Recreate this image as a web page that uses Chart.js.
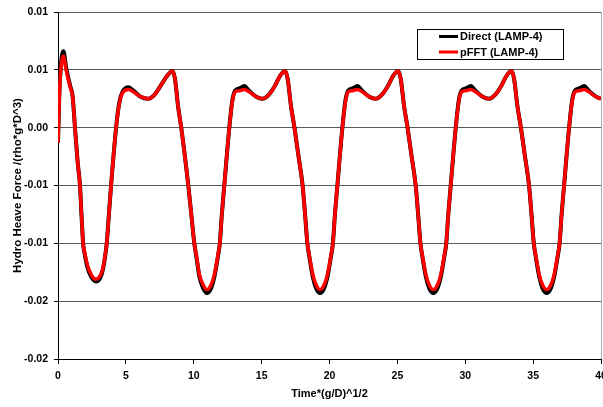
<!DOCTYPE html>
<html>
<head>
<meta charset="utf-8">
<script src="https://cdn.jsdelivr.net/npm/chart.js@4.4.1/dist/chart.umd.min.js"></script>
<style>
  body { margin: 0; background: #fff; }
  #wrap { width: 603px; height: 407px; }
</style>
</head>
<body>
<div id="wrap"><canvas id="myChart" width="603" height="407"></canvas></div>
<script>
var graph;

const seriesNames = ['Direct (LAMP-4)', 'pFFT (LAMP-4)'];
const xTickLabels = ['0', '5', '10', '15', '20', '25', '30', '35', '40'];
// bottom to top, as the reference prints them (2 decimals)
const yTickLabels = ['-0.02', '-0.02', '-0.01', '-0.01', '0.00', '0.01', '0.01'];

const timeVals = [
    0.00, 0.10, 0.22, 0.40, 0.60, 0.90, 1.08, 1.25, 1.45, 1.62, 1.73, 1.85, 1.98, 2.15, 2.45, 2.80, 3.10, 3.30,
    3.45, 3.59, 3.75, 3.91, 4.28, 4.52, 4.75, 5.20, 5.55, 6.05, 6.64, 7.15, 7.60, 8.05, 8.44, 8.62, 8.85, 9.08,
    9.35, 9.60, 9.82, 10.04, 10.20, 10.42, 10.70,
    10.97, 11.27, 11.52, 11.77, 11.92, 12.07, 12.25, 12.62, 12.85, 13.05, 13.37, 13.72, 14.07, 14.57, 15.07,
    15.57, 15.97, 16.37, 16.74, 16.92, 17.17, 17.42, 17.72, 18.02, 18.20, 18.37, 18.52, 18.77, 19.02,
    19.30, 19.60, 19.85, 20.10, 20.25, 20.40, 20.58, 20.95, 21.18, 21.38, 21.70, 22.05, 22.40, 22.90, 23.40,
    23.90, 24.30, 24.70, 25.07, 25.25, 25.50, 25.75, 26.05, 26.35, 26.53, 26.70, 26.85, 27.10, 27.35,
    27.65, 27.95, 28.20, 28.45, 28.60, 28.75, 28.93, 29.30, 29.53, 29.73, 30.05, 30.40, 30.75, 31.25, 31.75,
    32.25, 32.65, 33.05, 33.42, 33.60, 33.85, 34.10, 34.40, 34.70, 34.88, 35.05, 35.20, 35.45, 35.70,
    36.00, 36.30, 36.55, 36.80, 36.95, 37.10, 37.28, 37.65, 37.88, 38.08, 38.40, 38.75, 39.10, 39.60, 40.00
];

const directVals = [
    -0.0013, 0.0030, 0.0055, 0.0066, 0.0052, 0.0036, 0.0027, 0.0000, -0.0030, -0.0050, -0.0075, -0.0100, -0.0110,
    -0.0120, -0.0129, -0.0133, -0.0130, -0.0123, -0.0113, -0.0100, -0.0075, -0.0050, 0.0000, 0.0022, 0.0031,
    0.0035, 0.0032, 0.0027, 0.0025, 0.0029, 0.0037, 0.0045, 0.0049, 0.0042, 0.0018, 0.0000, -0.0025, -0.0050,
    -0.0075, -0.0100, -0.0112, -0.0129, -0.0139,
    -0.0143, -0.0139, -0.0129, -0.0112, -0.0100, -0.0075, -0.0050, 0.0000, 0.0024, 0.0032, 0.0034, 0.0036, 0.0032,
    0.0027, 0.0025, 0.0029, 0.0036, 0.0045, 0.0049, 0.0042, 0.0018, 0.0000, -0.0025, -0.0050, -0.0075, -0.0100,
    -0.0112, -0.0129, -0.0139,
    -0.0143, -0.0139, -0.0129, -0.0112, -0.0100, -0.0075, -0.0050, 0.0000, 0.0024, 0.0032, 0.0034, 0.0036, 0.0032,
    0.0027, 0.0025, 0.0029, 0.0036, 0.0045, 0.0049, 0.0042, 0.0018, 0.0000, -0.0025, -0.0050, -0.0075, -0.0100,
    -0.0112, -0.0129, -0.0139,
    -0.0143, -0.0139, -0.0129, -0.0112, -0.0100, -0.0075, -0.0050, 0.0000, 0.0024, 0.0032, 0.0034, 0.0036, 0.0032,
    0.0027, 0.0025, 0.0029, 0.0036, 0.0045, 0.0049, 0.0042, 0.0018, 0.0000, -0.0025, -0.0050, -0.0075, -0.0100,
    -0.0112, -0.0129, -0.0139,
    -0.0143, -0.0139, -0.0129, -0.0112, -0.0100, -0.0075, -0.0050, 0.0000, 0.0024, 0.0032, 0.0034, 0.0036, 0.0032,
    0.0027, 0.0025
];

const pfftVals = [
    -0.0013, 0.0028, 0.0052, 0.0062, 0.0050, 0.0035, 0.0027, 0.0000, -0.0030, -0.0050, -0.0075, -0.0100, -0.0109,
    -0.0118, -0.0127, -0.0131, -0.0128, -0.0122, -0.0112, -0.0100, -0.0075, -0.0050, 0.0000, 0.0021, 0.0030,
    0.0033, 0.0031, 0.0027, 0.0025, 0.0029, 0.0037, 0.0045, 0.0049, 0.0042, 0.0018, 0.0000, -0.0025, -0.0050,
    -0.0075, -0.0100, -0.0111, -0.0127, -0.0136,
    -0.0140, -0.0136, -0.0127, -0.0111, -0.0100, -0.0075, -0.0050, 0.0000, 0.0023, 0.0031, 0.0032, 0.0033, 0.0031,
    0.0027, 0.0025, 0.0029, 0.0036, 0.0045, 0.0049, 0.0042, 0.0018, 0.0000, -0.0025, -0.0050, -0.0075, -0.0100,
    -0.0111, -0.0127, -0.0136,
    -0.0140, -0.0136, -0.0127, -0.0111, -0.0100, -0.0075, -0.0050, 0.0000, 0.0023, 0.0031, 0.0032, 0.0033, 0.0031,
    0.0027, 0.0025, 0.0029, 0.0036, 0.0045, 0.0049, 0.0042, 0.0018, 0.0000, -0.0025, -0.0050, -0.0075, -0.0100,
    -0.0111, -0.0127, -0.0136,
    -0.0140, -0.0136, -0.0127, -0.0111, -0.0100, -0.0075, -0.0050, 0.0000, 0.0023, 0.0031, 0.0032, 0.0033, 0.0031,
    0.0027, 0.0025, 0.0029, 0.0036, 0.0045, 0.0049, 0.0042, 0.0018, 0.0000, -0.0025, -0.0050, -0.0075, -0.0100,
    -0.0111, -0.0127, -0.0136,
    -0.0140, -0.0136, -0.0127, -0.0111, -0.0100, -0.0075, -0.0050, 0.0000, 0.0023, 0.0031, 0.0032, 0.0033, 0.0031,
    0.0027, 0.0025
];

const FONT = 'Arial, "Liberation Sans", sans-serif';

function toPoints(vals) {
    return vals.map((v, i) => ({ x: timeVals[i], y: v }));
}

// legend box inside the plot, top right, plus the thin grey right border
const boxLegend = {
    id: 'boxLegend',
    afterDraw(chart) {
        const ctx = chart.ctx;
        const area = chart.chartArea;
        ctx.save();
        ctx.strokeStyle = '#b0b0b0';
        ctx.lineWidth = 1;
        ctx.beginPath();
        ctx.moveTo(area.right + 0.5, area.top);
        ctx.lineTo(area.right + 0.5, area.bottom);
        ctx.stroke();

        const bx = 417.5, by = 29.5, bw = 146, bh = 30;
        ctx.fillStyle = '#fff';
        ctx.fillRect(bx, by, bw, bh);
        ctx.strokeStyle = '#000';
        ctx.strokeRect(bx, by, bw, bh);

        ctx.font = 'bold 11px ' + FONT;
        ctx.textBaseline = 'middle';
        chart.data.datasets.forEach((ds, i) => {
            const y = 36.5 + i * 15.5;
            ctx.strokeStyle = ds.borderColor;
            ctx.lineWidth = 3;
            ctx.beginPath();
            ctx.moveTo(439, y);
            ctx.lineTo(458, y);
            ctx.stroke();
            ctx.fillStyle = '#000';
            ctx.fillText(ds.label, 460, y + 0.5);
        });
        ctx.restore();
    }
};

const config = {
    responsive: false,
    animation: false,
    layout: { padding: { top: 12, right: 2, bottom: 0, left: 0 } },
    plugins: {
        legend: { display: false },
        tooltip: { enabled: false }
    },
    elements: { point: { radius: 0 } },
    scales: {
        x: {
            type: 'linear',
            min: 0,
            max: 40,
            border: { color: '#000', width: 1 },
            grid: { drawOnChartArea: false, drawTicks: true, tickLength: 5, tickColor: '#000' },
            ticks: {
                stepSize: 5,
                autoSkip: false,
                maxRotation: 0,
                padding: 6,
                color: '#000',
                font: { family: FONT, size: 10.5, weight: 'bold' },
                callback: (v, i) => xTickLabels[i]
            },
            title: {
                display: true,
                text: 'Time*(g/D)^1/2',
                color: '#000',
                font: { family: FONT, size: 11, weight: 'bold' },
                padding: { top: 0, bottom: 6 }
            },
            afterFit(scale) {
                scale.height = 48;
                scale.paddingLeft = 0;
                scale.paddingRight = 0;
            }
        },
        y: {
            min: -0.02,
            max: 0.01,
            border: { color: '#000', width: 1 },
            grid: { color: '#5a5a5a', lineWidth: 1, drawTicks: true, tickLength: 4, tickColor: '#000' },
            ticks: {
                stepSize: 0.005,
                padding: 6,
                color: '#000',
                font: { family: FONT, size: 10.5, weight: 'bold' },
                callback: (v, i) => yTickLabels[i]
            },
            title: {
                display: true,
                text: 'Hydro Heave Force /(rho*g*D^3)',
                color: '#000',
                font: { family: FONT, size: 11.5, weight: 'bold' },
                padding: { top: 11, bottom: 0 }
            },
            afterFit(scale) {
                scale.width = 58;
                scale.paddingTop = 0;
                scale.paddingBottom = 0;
            }
        }
    }
};

(function() {
    var ctx = document.querySelector('#myChart');
    graph = new Chart(ctx, {
        type: 'line',
        data: {
            datasets: [{
                label: seriesNames[0],
                data: toPoints(directVals),
                borderColor: '#000000',
                borderWidth: 4,
                cubicInterpolationMode: 'monotone',
                fill: false,
                order: 2
            }, {
                label: seriesNames[1],
                data: toPoints(pfftVals),
                borderColor: '#ff0000',
                borderWidth: 3.5,
                cubicInterpolationMode: 'monotone',
                fill: false,
                order: 1
            }]
        },
        options: config,
        plugins: [boxLegend]
    });
})();
</script>
</body>
</html>
